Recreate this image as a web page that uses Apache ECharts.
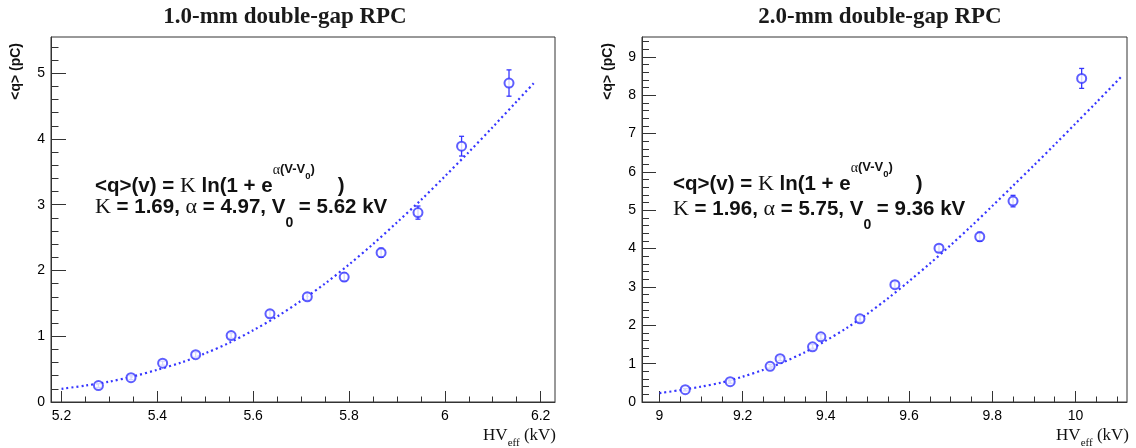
<!DOCTYPE html>
<html>
<head>
<meta charset="utf-8">
<script src="https://cdn.jsdelivr.net/npm/echarts@6/dist/echarts.min.js"></script>
<style>
  html, body { margin: 0; padding: 0; background: #fff; }
  #chart { width: 1136px; height: 448px; }
</style>
</head>
<body>
<div id="chart"></div>
<script>
// ---------------- data ----------------
// 1.0-mm double-gap RPC
const hv1 = [5.277, 5.345, 5.411, 5.480, 5.554, 5.635, 5.713, 5.790, 5.867, 5.944, 6.035, 6.134];
const q1 = [0.25, 0.37, 0.59, 0.72, 1.01, 1.34, 1.60, 1.90, 2.27, 2.88, 3.89, 4.85];
const err1 = [0.03, 0.03, 0.03, 0.04, 0.04, 0.05, 0.05, 0.06, 0.07, 0.10, 0.15, 0.20];
const fitHv1 = [5.20, 5.25, 5.30, 5.35, 5.40, 5.45, 5.50, 5.55, 5.60, 5.65, 5.70, 5.75, 5.80, 5.85, 5.90, 5.95, 6.00, 6.05, 6.10, 6.15, 6.19];
const fitQ1 = [0.20, 0.25, 0.31, 0.39, 0.49, 0.60, 0.74, 0.90, 1.09, 1.30, 1.54, 1.80, 2.09, 2.40, 2.73, 3.07, 3.43, 3.80, 4.18, 4.57, 4.88];

// 2.0-mm double-gap RPC
const hv2 = [9.062, 9.170, 9.266, 9.290, 9.368, 9.388, 9.482, 9.566, 9.672, 9.770, 9.850, 10.015];
const q2 = [0.32, 0.53, 0.93, 1.13, 1.44, 1.70, 2.17, 3.06, 4.01, 4.31, 5.24, 8.44];
const err2 = [0.03, 0.04, 0.05, 0.05, 0.06, 0.06, 0.07, 0.08, 0.09, 0.12, 0.15, 0.26];
const fitHv2 = [9.00, 9.05, 9.10, 9.15, 9.20, 9.25, 9.30, 9.35, 9.40, 9.45, 9.50, 9.55, 9.60, 9.65, 9.70, 9.75, 9.80, 9.85, 9.90, 9.95, 10.00, 10.05, 10.11];
const fitQ2 = [0.23, 0.31, 0.40, 0.51, 0.66, 0.84, 1.05, 1.30, 1.60, 1.93, 2.30, 2.71, 3.15, 3.61, 4.09, 4.59, 5.11, 5.64, 6.17, 6.71, 7.26, 7.81, 8.48];

// tick labels
const xTicks1 = [5.2, 5.4, 5.6, 5.8, 6, 6.2];
const yTicks1 = [0, 1, 2, 3, 4, 5];
const xTicks2 = [9, 9.2, 9.4, 9.6, 9.8, 10];
const yTicks2 = [0, 1, 2, 3, 4, 5, 6, 7, 8, 9];

// texts
const titles = ['1.0-mm double-gap RPC', '2.0-mm double-gap RPC'];
const yName = '<q> (pC)';
const fitPars1 = ['1.69', '4.97', '5.62'];
const fitPars2 = ['1.96', '5.75', '9.36'];

// ---------------- layout ----------------
const G1 = { left: 51, top: 37, width: 504, height: 365, xmin: 5.178, xmax: 6.230, ymin: 0, ymax: 5.55 };
const G2 = { left: 642, top: 37, width: 485, height: 365, xmin: 8.958, xmax: 10.124, ymin: 0, ymax: 9.52 };

const AX = '#333';
const BLUE = '#3636ff';
const SANS = 'Liberation Sans, Arial, sans-serif';
const SERIF = 'Liberation Serif, Times New Roman, serif';

function minors(start, end, step, majors) {
  const out = [];
  for (let v = start; v <= end + 1e-9; v += step) {
    const r = Math.round(v * 1000) / 1000;
    if (!majors.some(m => Math.abs(m - r) < 1e-6)) out.push(r);
  }
  return out;
}

function mainAxis(gridIndex, min, max, ticks, len, isY) {
  return {
    type: 'value', gridIndex, min, max,
    axisLine: { show: true, onZero: false, lineStyle: { color: AX, width: 1 } },
    axisTick: { show: true, inside: true, length: len, customValues: ticks, lineStyle: { color: AX, width: 1 } },
    axisLabel: { show: true, customValues: ticks, margin: isY ? 6 : 7, fontFamily: SANS, fontSize: 14, color: '#000' },
    splitLine: { show: false }
  };
}
function minorAxis(gridIndex, min, max, ticks, len) {
  return {
    type: 'value', gridIndex, min, max,
    axisLine: { show: false },
    axisTick: { show: true, inside: true, length: len, customValues: ticks, lineStyle: { color: AX, width: 1 } },
    axisLabel: { show: false },
    splitLine: { show: false }
  };
}

const xMin1 = minors(5.2, 6.2, 0.05, xTicks1);
const yMin1 = minors(0, 5.4, 0.2, yTicks1);
const xMin2 = minors(9.0, 10.1, 0.05, xTicks2);
const yMin2 = minors(0, 9.4, 0.2, yTicks2);

function gridOf(g, show) {
  return { left: g.left, top: g.top, width: g.width, height: g.height, show, borderColor: AX, borderWidth: 1, backgroundColor: 'transparent', containLabel: false };
}

function errSeries(xi, hv, q, err) {
  return {
    type: 'custom', xAxisIndex: xi, yAxisIndex: xi, z: 3,
    data: hv.map((x, i) => [x, q[i], err[i]]),
    renderItem: function (params, api) {
      const x = api.value(0), y = api.value(1), e = api.value(2);
      const top = api.coord([x, y + e]);
      const bot = api.coord([x, y - e]);
      const st = { stroke: BLUE, lineWidth: 1.3 };
      return {
        type: 'group',
        children: [
          { type: 'line', shape: { x1: top[0], y1: top[1], x2: bot[0], y2: bot[1] }, style: st },
          { type: 'line', shape: { x1: top[0] - 2.5, y1: top[1], x2: top[0] + 2.5, y2: top[1] }, style: st },
          { type: 'line', shape: { x1: bot[0] - 2.5, y1: bot[1], x2: bot[0] + 2.5, y2: bot[1] }, style: st }
        ]
      };
    }
  };
}
function fitSeries(xi, fx, fq) {
  return {
    type: 'line', xAxisIndex: xi, yAxisIndex: xi, z: 2,
    data: fx.map((x, i) => [x, fq[i]]),
    showSymbol: false, smooth: 0.3, silent: true,
    lineStyle: { color: BLUE, width: 2.2, type: [2, 3] }
  };
}
function ptSeries(xi, hv, q) {
  return {
    type: 'scatter', xAxisIndex: xi, yAxisIndex: xi, z: 4,
    data: hv.map((x, i) => [x, q[i]]),
    symbol: 'emptyCircle', symbolSize: 9,
    itemStyle: { color: BLUE, borderColor: BLUE, borderWidth: 1.5 }
  };
}

// ---------------- texts ----------------
const richBase = {
  b: { fontFamily: SANS, fontWeight: 'bold', fontSize: 20.5, fill: '#111', lineHeight: 46 },
  k: { fontFamily: SERIF, fontSize: 22, fill: '#111', lineHeight: 46 },
  a: { fontFamily: SERIF, fontSize: 22, fill: '#111', lineHeight: 46 },
  sup: { fontFamily: SERIF, fontSize: 14, fill: '#111', lineHeight: 14, verticalAlign: 'top' },
  supb: { fontFamily: SANS, fontWeight: 'bold', fontSize: 13, fill: '#111', lineHeight: 14, verticalAlign: 'top' },
  supsub: { fontFamily: SANS, fontWeight: 'bold', fontSize: 9.5, fill: '#111', lineHeight: 9, verticalAlign: 'top', padding: [8, 0, 0, 0] },
  sub: { fontFamily: SANS, fontWeight: 'bold', fontSize: 14, fill: '#111', lineHeight: 14, verticalAlign: 'bottom' }
};
function formula(x, y1, y2, pars) {
  return [
    { type: 'text', x: x, y: y1, silent: true, style: {
      text: '{b|<q>(v) = }{k|K}{b| ln(1 + e}{sup|α}{supb|(V-V}{supsub|0}{supb|)}{b|    )}',
      rich: richBase, textVerticalAlign: 'middle', textAlign: 'left' } },
    { type: 'text', x: x, y: y2, silent: true, style: {
      text: '{k|K}{b| = ' + pars[0] + ', }{a|α}{b| = ' + pars[1] + ', V}{sub|0}{b| = ' + pars[2] + ' kV}',
      rich: richBase, textVerticalAlign: 'middle', textAlign: 'left' } }
  ];
}
function title(cx, txt) {
  return { type: 'text', x: cx, y: 17, silent: true, style: {
    text: txt, font: 'bold 23px ' + SERIF, fill: '#1a1a1a', textAlign: 'center', textVerticalAlign: 'middle' } };
}
function yTitle(x, y) {
  return { type: 'text', x: x, y: y, rotation: Math.PI / 2, silent: true, style: {
    text: yName, font: 'bold 14px ' + SANS, fill: '#111', textAlign: 'right', textVerticalAlign: 'middle' } };
}
function xTitle(xr, y) {
  return { type: 'text', x: xr, y: y, silent: true, style: {
    text: '{n|HV}{s|eff}{n| (kV)}', textAlign: 'right', textVerticalAlign: 'middle',
    rich: {
      n: { fontFamily: SERIF, fontSize: 17, fill: '#111', lineHeight: 26 },
      s: { fontFamily: SERIF, fontSize: 11, fill: '#111', lineHeight: 11, verticalAlign: 'bottom' }
    } } };
}

const chart = echarts.init(document.getElementById('chart'), null, { renderer: 'canvas' });
chart.setOption({
  backgroundColor: '#fff',
  animation: false,
  grid: [gridOf(G1, true), gridOf(G1, false), gridOf(G2, true), gridOf(G2, false)],
  xAxis: [
    mainAxis(0, G1.xmin, G1.xmax, xTicks1, 11, false),
    minorAxis(1, G1.xmin, G1.xmax, xMin1, 5.5),
    mainAxis(2, G2.xmin, G2.xmax, xTicks2, 11, false),
    minorAxis(3, G2.xmin, G2.xmax, xMin2, 5.5)
  ],
  yAxis: [
    mainAxis(0, G1.ymin, G1.ymax, yTicks1, 15, true),
    minorAxis(1, G1.ymin, G1.ymax, yMin1, 7.5),
    mainAxis(2, G2.ymin, G2.ymax, yTicks2, 14, true),
    minorAxis(3, G2.ymin, G2.ymax, yMin2, 7)
  ],
  series: [
    fitSeries(0, fitHv1, fitQ1), errSeries(0, hv1, q1, err1), ptSeries(0, hv1, q1),
    fitSeries(2, fitHv2, fitQ2), errSeries(2, hv2, q2, err2), ptSeries(2, hv2, q2)
  ],
  graphic: [
    title(285, titles[0]), title(880, titles[1]),
    yTitle(16, 43), yTitle(608, 43),
    xTitle(G1.left + G1.width + 1, 436), xTitle(G2.left + G2.width + 2, 436)
  ].concat(formula(95, 186, 207, fitPars1)).concat(formula(673, 184, 209, fitPars2))
});
</script>
</body>
</html>
